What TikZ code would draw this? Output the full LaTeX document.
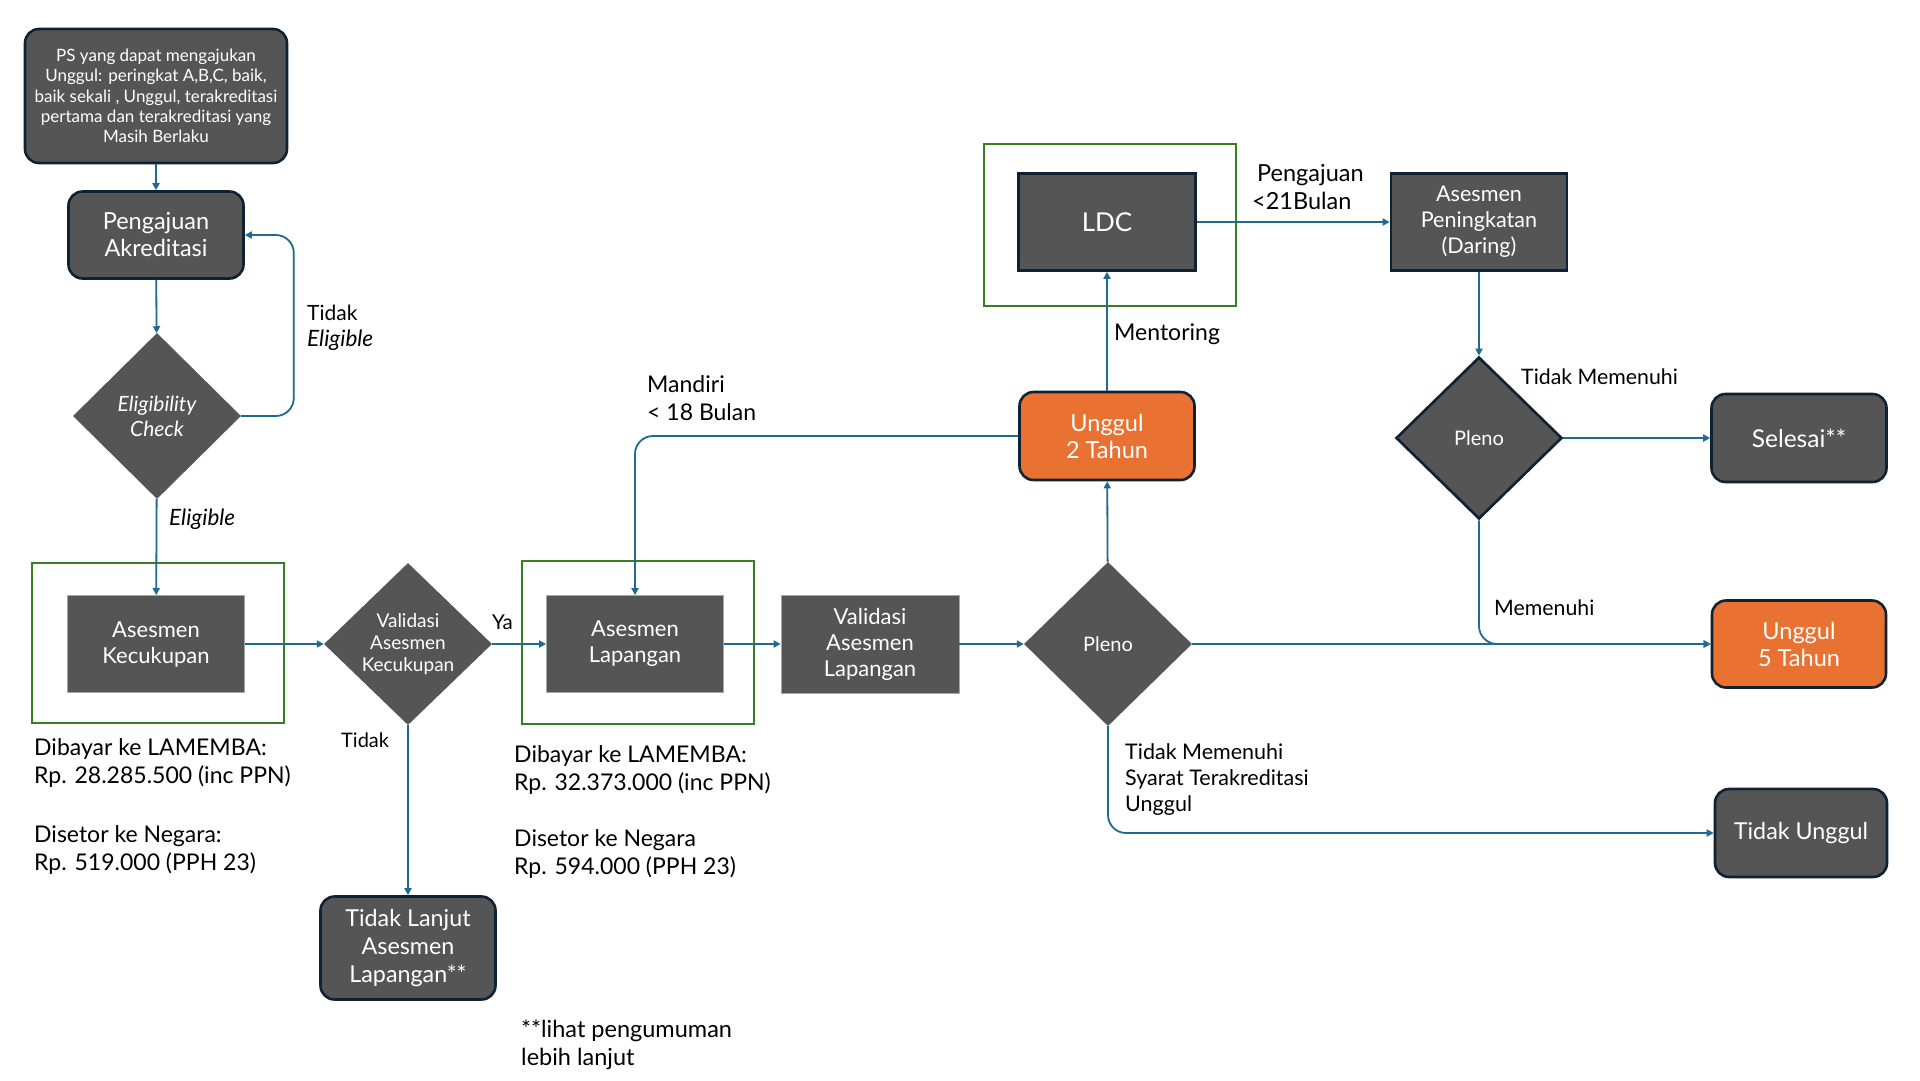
\documentclass[tikz,border=0pt]{standalone}
\usepackage{fontspec}
\setmainfont{Lato}
\usetikzlibrary{shapes.geometric,arrows.meta}
\definecolor{boxgray}{HTML}{555555}
\definecolor{navy}{HTML}{0E2233}
\definecolor{conncol}{HTML}{1E6B8F}
\definecolor{grn}{HTML}{3B7D23}
\definecolor{orng}{HTML}{E97132}
\tikzset{
  rbox/.style={draw=navy, line width=2.6pt, fill=boxgray, text=white, rounded corners=14pt, align=center, inner sep=0pt},
  obox/.style={rbox, fill=orng},
  sbox/.style={draw=navy, line width=2.6pt, fill=boxgray, text=white, align=center, inner sep=0pt},
  pbox/.style={draw=gray!70, line width=0.8pt, fill=boxgray, text=white, align=center, inner sep=0pt},
  dia/.style={diamond, fill=boxgray, text=white, align=center, inner sep=0pt},
  gframe/.style={draw=grn, line width=1.3pt},
  conn/.style={draw=conncol, line width=1.8pt, -{Triangle[length=7pt,width=7pt]}, rounded corners=18pt},
  lbl/.style={text=black, align=left, inner sep=0pt, anchor=west},
}
\newcommand{\fs}[2]{\fontsize{#1}{#2}\selectfont}
\begin{document}
\begin{tikzpicture}[x=1pt,y=-1pt]
\useasboundingbox[fill=white] (0,0) rectangle (1920,1080);
% green frames
\draw[gframe] (32,563) rectangle (284,723);
\draw[gframe] (522,561) rectangle (754,724);
\draw[gframe] (984,144) rectangle (1236,306);
% nodes
\node[rbox, minimum width=262, minimum height=134, font=\fs{17}{20.2}] (top) at (156,96) {PS yang dapat mengajukan\\Unggul: peringkat A,B,C, baik,\\baik sekali , Unggul, terakreditasi\\pertama dan terakreditasi yang\\Masih Berlaku};
\node[rbox, minimum width=175, minimum height=87, font=\fs{23.5}{27}] (peng) at (156,235) {Pengajuan\\Akreditasi};
\node[dia, minimum width=168, minimum height=166, font=\fs{21}{25}\itshape] (elig) at (157,416) {Eligibility\\Check};
\node[pbox, minimum width=177, minimum height=97, font=\fs{22}{26}] (ak) at (156,644) {Asesmen\\Kecukupan};
\node[dia, minimum width=168, minimum height=162, font=\fs{19}{22}] (val) at (408,644) {Validasi\\Asesmen\\Kecukupan};
\node[pbox, minimum width=177, minimum height=97, font=\fs{22}{26}] (al) at (635,644) {Asesmen\\Lapangan};
\node[pbox, minimum width=178, minimum height=98, font=\fs{22}{26}] (val2) at (870,644) {Validasi\\Asesmen\\Lapangan};
\node[rbox, minimum width=175, minimum height=103, font=\fs{23.3}{28}] (tl) at (408,948) {Tidak Lanjut\\Asesmen\\Lapangan**};
\node[dia, minimum width=168, minimum height=164, font=\fs{20}{22}] (pl1) at (1108,644) {Pleno};
\node[obox, minimum width=175, minimum height=88, font=\fs{23.5}{27}] (u2) at (1107,436) {Unggul\\2 Tahun};
\node[sbox, minimum width=177, minimum height=97, font=\fs{26}{30}] (ldc) at (1107,222) {LDC};
\node[sbox, minimum width=176, minimum height=97, font=\fs{21.6}{26}] (ap) at (1479,222) {Asesmen\\Peningkatan\\(Daring)};
\node[dia, draw=navy, line width=2.6pt, minimum width=166, minimum height=162, font=\fs{20}{22}] (pl2) at (1479,438) {Pleno};
\node[rbox, minimum width=175, minimum height=88, font=\fs{24.5}{27}] (sel) at (1799,438) {Selesai**};
\node[obox, minimum width=174, minimum height=87, font=\fs{23.5}{27}] (u5) at (1799,644) {Unggul\\5 Tahun};
\node[rbox, minimum width=172, minimum height=88, font=\fs{23.3}{27}] (tu) at (1801,833) {Tidak Unggul};
% connectors
\draw[conn] (top) -- (peng);
\draw[conn] (peng) -- (elig);
\draw[conn] (elig.east) -| ([xshift=49pt]peng.east) -- (peng.east);
\draw[conn] (elig) -- (ak);
\draw[conn] (ak) -- (val);
\draw[conn] (val) -- (al);
\draw[conn] (val) -- (tl);
\draw[conn] (al) -- (val2);
\draw[conn] (val2) -- (pl1);
\draw[conn] (pl1) -- (u5);
\draw[conn] (pl1) -- (u2);
\draw[conn] (u2) -- (ldc);
\draw[conn] (u2.west) -| (al.north);
\draw[conn] (ldc) -- (ap);
\draw[conn] (ap) -- (pl2);
\draw[conn] (pl2) -- (sel);
\draw[conn] (pl2.south) |- (u5.west);
\draw[conn] (pl1.south) |- (tu.west);
% labels
\node[lbl, font=\fs{21}{26}] (l-te) at (307,328) {Tidak\\\fontsize{22.5}{26}\selectfont\textit{Eligible}};
\node[lbl, font=\fs{22.5}{25}\itshape] (l-el) at (169,519) {Eligible};
\node[lbl, font=\fs{20.5}{24}] (l-ya) at (492,622) {Ya};
\node[lbl, font=\fs{20}{24}] (l-td) at (341,740) {Tidak};
\node[lbl, font=\fs{23}{28}] (l-man) at (647,398) {Mandiri\\< 18 Bulan};
\node[lbl, font=\fs{23}{26}] (l-men) at (1114,334) {Mentoring};
\node[lbl, font=\fs{23.5}{28}] (l-pg) at (1252,187) {\hspace{5pt}Pengajuan\\<21Bulan};
\node[lbl, font=\fs{21.3}{24}] (l-tm) at (1521,377) {Tidak Memenuhi};
\node[lbl, font=\fs{21.3}{24}] (l-mm) at (1494,608) {Memenuhi};
\node[lbl, font=\fs{21.5}{26}] (l-ts) at (1125,780) {Tidak Memenuhi\\Syarat Terakreditasi\\Unggul};
\node[lbl, font=\fs{23}{28}] (t-k1) at (34,763) {Dibayar ke LAMEMBA:\\Rp. 28.285.500 (inc PPN)};
\node[lbl, font=\fs{23}{28}] (t-k2) at (34,850) {Disetor ke Negara:\\Rp. 519.000 (PPH 23)};
\node[lbl, font=\fs{23}{28}] (t-l1) at (514,770) {Dibayar ke LAMEMBA:\\Rp. 32.373.000 (inc PPN)};
\node[lbl, font=\fs{23}{28}] (t-l2) at (514,854) {Disetor ke Negara\\Rp. 594.000 (PPH 23)};
\node[lbl, font=\fs{23.5}{28}] (t-ft) at (521,1045) {**lihat pengumuman\\lebih lanjut};
\end{tikzpicture}
\end{document}
